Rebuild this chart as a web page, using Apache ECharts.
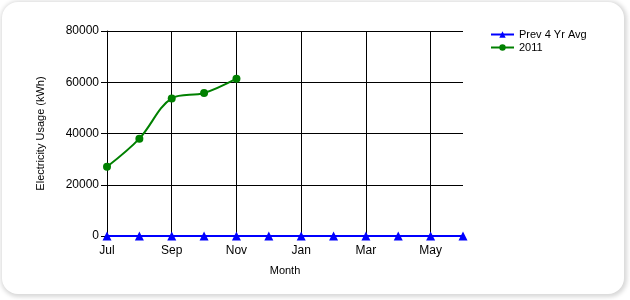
<!DOCTYPE html>
<html><head><meta charset="utf-8">
<script src="https://cdn.jsdelivr.net/npm/echarts@6/dist/echarts.min.js"></script>
<style>
html,body{margin:0;padding:0;background:#fff;}
#card{position:absolute;left:2px;top:2px;width:622px;height:292px;border-radius:16px;background:#fff;box-shadow:1px 1px 4px 2px #d8d8d8;}
#chart{position:absolute;left:0;top:0;width:630px;height:300px;}
</style></head>
<body>
<div id="card"></div>
<div id="chart"></div>
<script>
const months = ['Jul','Aug','Sep','Oct','Nov','Dec','Jan','Feb','Mar','Apr','May','Jun'];
const prevAvg = [0,0,0,0,0,0,0,0,0,0,0,0];
const y2011 = [27000,38000,53700,55800,61400];
const yTicks = {min:0,max:80000,interval:20000};

const chart = echarts.init(document.getElementById('chart'));
const font = 'Liberation Sans, Arial, sans-serif';
chart.setOption({
  animation:false,
  backgroundColor:'transparent',
  grid:{left:107,top:31,width:356,height:205,containLabel:false},
  legend:{
    orient:'vertical',left:485,top:24,itemGap:2,itemWidth:23,itemHeight:8,
    textStyle:{fontFamily:font,fontSize:11,color:'#000',padding:[0,0,0,0]},
    data:['Prev 4 Yr Avg','2011']
  },
  xAxis:{
    type:'category',data:months,boundaryGap:false,
    name:'Month',nameLocation:'middle',nameGap:29,
    nameTextStyle:{fontFamily:font,fontSize:11,color:'#000'},
    axisLine:{show:true,lineStyle:{color:'#000',width:1}},
    axisTick:{show:false},
    axisLabel:{interval:1,fontFamily:font,fontSize:12,color:'#000',margin:9},
    splitLine:{show:true,interval:1,lineStyle:{color:'#000',width:1}}
  },
  yAxis:{
    type:'value',min:yTicks.min,max:yTicks.max,interval:yTicks.interval,
    name:'Electricity Usage (kWh)',nameLocation:'middle',nameGap:61,
    nameTextStyle:{fontFamily:font,fontSize:11,color:'#000'},
    axisLine:{show:true,lineStyle:{color:'#000',width:1}},
    axisTick:{show:true,length:6,lineStyle:{color:'#000'}},
    axisLabel:{fontFamily:font,fontSize:12,color:'#000',margin:8,formatter:v=>String(v)},
    splitLine:{show:true,lineStyle:{color:'#000',width:1}}
  },
  series:[
    {name:'Prev 4 Yr Avg',type:'line',data:prevAvg,symbol:'triangle',symbolSize:9,
     color:'#0000ff',lineStyle:{color:'#0000ff',width:2},itemStyle:{color:'#0000ff'},z:3},
    {name:'2011',type:'line',data:y2011,symbol:'circle',symbolSize:8,smooth:0.35,
     color:'#008000',lineStyle:{color:'#008000',width:2},itemStyle:{color:'#008000'},z:4}
  ]
});
</script>
</body></html>
